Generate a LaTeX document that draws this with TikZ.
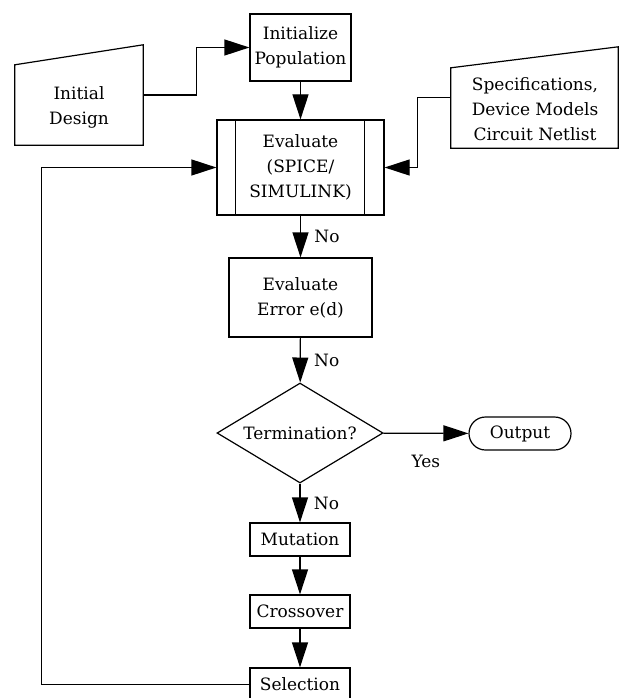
\documentclass[tikz,border=0pt]{standalone}
\usepackage{fontspec}
\setmainfont{DejaVu Serif}
\usetikzlibrary{shapes.geometric, shapes.misc, arrows.meta, positioning, calc}
\tikzset{
    % Flow chart styles
    process/.style={
        rectangle,
        draw=black,
        line width=1.2pt,
        inner sep=0pt,
        align=center,
        font=\fontsize{17}{25}\selectfont
    },
    io box/.style={
        rectangle,
        inner sep=0pt
    },
    io text/.style={
        align=center,
        font=\fontsize{17}{25}\selectfont
    },
    decision/.style={
        diamond,
        draw=black,
        line width=1.2pt,
        inner sep=0pt,
        aspect=1.66,
        minimum width=166pt,
        minimum height=100pt,
        font=\fontsize{17}{25}\selectfont
    },
    terminal/.style={
        rounded rectangle,
        draw=black,
        line width=1.2pt,
        inner sep=0pt,
        minimum width=102pt,
        minimum height=33pt,
        font=\fontsize{17}{25}\selectfont
    },
    edge label/.style={
        font=\fontsize{17}{25}\selectfont
    },
    line style/.style={
        line width=1.2pt,
        black
    },
    arrow style/.style={
        line style,
        -{Triangle[length=25pt,width=16pt]}
    }
}
\begin{document}
\begin{tikzpicture}[x=1pt, y=-1pt]
        \useasboundingbox (0,0) rectangle (624,698);

        % Inputs
        \node[io box, minimum width=128pt, minimum height=100pt] (initdesign) at (79,95) {};
        \draw[line style] (initdesign.south west) -- (initdesign.south east) -- (initdesign.north east)
            -- ([yshift=-20pt]initdesign.north west) -- cycle;
        \node[io text] (initdesigntext) at (79,107) {Initial\\Design};

        \node[io box, minimum width=167pt, minimum height=101pt] (specs) at (534.5,97.5) {};
        \draw[line style] (specs.south west) -- (specs.south east) -- (specs.north east)
            -- ([yshift=-21pt]specs.north west) -- cycle;
        \node[io text] (specstext) at (535,109) {Specifications,\\Device Models\\Circuit Netlist};

        % Main flow
        \node[process, minimum width=101pt, minimum height=67pt] (initpop) at (300.5,47.5) {Initialize\\Population};
        \node[process, minimum width=167pt, minimum height=95pt] (evaluate) at (300.5,167.5) {Evaluate\\(SPICE/\\SIMULINK)};
        \draw[line style] ([xshift=19pt]evaluate.north west) -- ([xshift=19pt]evaluate.south west);
        \draw[line style] ([xshift=-20pt]evaluate.north east) -- ([xshift=-20pt]evaluate.south east);
        \node[process, minimum width=143pt, minimum height=79pt] (everr) at (300.5,297.5) {Evaluate\\Error e(d)};
        \node[decision] (term) at (300,433) {Termination?};
        \node[terminal] (output) at (520,433.5) {Output};
        \node[process, minimum width=100pt, minimum height=33pt] (mutation) at (300,539.5) {Mutation};
        \node[process, minimum width=100pt, minimum height=33pt] (crossover) at (300,611.5) {Crossover};
        \node[process, minimum width=100pt, minimum height=33pt] (selection) at (300,684.5) {Selection};

        % Arrows
        \draw[arrow style] (initdesign.east) -- ++(53,0) |- (initpop.west);
        \draw[arrow style] (initpop) -- (evaluate);
        \draw[arrow style] (specs.west) -- ++(-33,0) |- (evaluate.east);
        \draw[arrow style] (evaluate) -- node[edge label, right=10pt] {No} (everr);
        \draw[arrow style] (everr) -- node[edge label, right=10pt] {No} (term);
        \draw[arrow style] (term) -- node[edge label, below=18pt] {Yes} (output);
        \draw[arrow style] (term) -- node[edge label, right=10pt] {No} (mutation);
        \draw[arrow style] (mutation) -- (crossover);
        \draw[arrow style] (crossover) -- (selection);
        \draw[arrow style] (selection.west) -- ++(-208,0) |- (evaluate.west);
\end{tikzpicture}
\end{document}
